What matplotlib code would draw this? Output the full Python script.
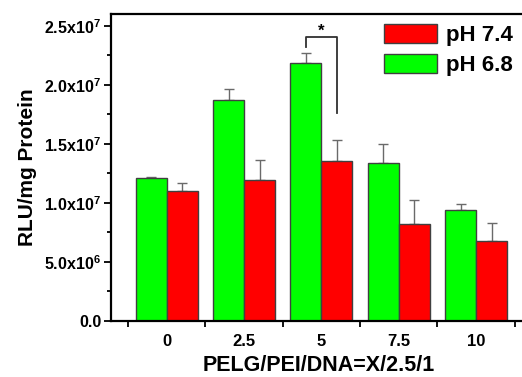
import matplotlib
matplotlib.use("Agg")
import matplotlib.pyplot as plt
import numpy as np
from matplotlib.ticker import FixedLocator, MultipleLocator

plt.rcParams['font.family'] = ['Liberation Sans', 'DejaVu Sans']
plt.rcParams['font.weight'] = 'bold'
plt.rcParams['mathtext.fontset'] = 'custom'
plt.rcParams['mathtext.rm'] = 'Liberation Sans:bold'
plt.rcParams['mathtext.it'] = 'Liberation Sans:bold'
plt.rcParams['mathtext.bf'] = 'Liberation Sans:bold'

categories = ['0', '2.5', '5', '7.5', '10']
ph68 = [1.21e7, 1.872e7, 2.185e7, 1.337e7, 9.38e6]
ph68_err = [0.012e7, 0.093e7, 0.081e7, 0.163e7, 0.52e6]
ph74 = [1.104e7, 1.197e7, 1.354e7, 8.19e6, 6.78e6]
ph74_err = [0.062e7, 0.165e7, 0.18e7, 2.06e6, 1.50e6]

fig = plt.figure(figsize=(5.22, 3.77), dpi=100)
ax = fig.add_axes([111/522, 56/377, 1 - 111/522 + 0.01, 307/377])

x = np.arange(len(categories))
w = 0.4
edge = '#404040'
ax.bar(x - w/2, ph68, w, color='#00ff00', edgecolor=edge, linewidth=1.0, label='pH 6.8', zorder=2)
ax.bar(x + w/2, ph74, w, color='#ff0000', edgecolor=edge, linewidth=1.0, label='pH 7.4', zorder=2)
ax.errorbar(x - w/2, ph68, yerr=[np.zeros(5), ph68_err], fmt='none', ecolor='#6a6a6a',
            elinewidth=1.0, capsize=3.5, capthick=1.0, zorder=1)
ax.errorbar(x + w/2, ph74, yerr=[np.zeros(5), ph74_err], fmt='none', ecolor='#6a6a6a',
            elinewidth=1.0, capsize=3.5, capthick=1.0, zorder=1)

# significance bracket
bx0, bx1 = x[2] - w/2, x[2] + w/2
ax.plot([bx0, bx0, bx1, bx1], [2.317e7, 2.405e7, 2.405e7, 1.76e7], color='#303030', lw=1.3)
ax.text((bx0 + bx1)/2, 2.39e7, '*', ha='center', va='bottom', fontsize=12, fontweight='bold')

ax.set_xlim(-0.72, 4.66)
ax.set_ylim(0, 2.6e7)

ax.set_xticks(x)
ax.set_xticklabels(categories)
ax.xaxis.set_minor_locator(FixedLocator(np.arange(-0.5, 5.0, 1.0)))
ax.tick_params(axis='x', which='major', length=0, labelsize=12, pad=9)
ax.tick_params(axis='x', which='minor', length=4, width=1.3, direction='out')

yt = [0, 5e6, 1e7, 1.5e7, 2e7, 2.5e7]
ylabels = ['0.0', r'$\mathbf{5.0x10^6}$', r'$\mathbf{1.0x10^7}$', r'$\mathbf{1.5x10^7}$',
           r'$\mathbf{2.0x10^7}$', r'$\mathbf{2.5x10^7}$']
ax.set_yticks(yt)
ax.set_yticklabels(ylabels)
ax.yaxis.set_minor_locator(MultipleLocator(2.5e6))
ax.tick_params(axis='y', which='major', length=5, width=1.3, direction='out', labelsize=11.5, pad=2)
ax.tick_params(axis='y', which='minor', length=3, width=1.3, direction='out')
for lab in ax.get_xticklabels() + ax.get_yticklabels():
    lab.set_fontweight('bold')

for s in ['left', 'bottom', 'top']:
    ax.spines[s].set_linewidth(1.6)
ax.spines['right'].set_visible(False)

ax.set_ylabel('RLU/mg Protein', fontsize=15, fontweight='bold', labelpad=5)
ax.set_xlabel('PELG/PEI/DNA=X/2.5/1', fontsize=15.5, fontweight='bold', labelpad=4.5)

h, l = ax.get_legend_handles_labels()
leg = fig.legend([h[1], h[0]], [l[1], l[0]], loc='upper left',
                 bbox_to_anchor=(384/522, 1 - 24/377), bbox_transform=fig.transFigure,
                 frameon=False, fontsize=16, handlelength=2.4, handleheight=0.95,
                 handletextpad=0.4, labelspacing=0.35, borderaxespad=0, borderpad=0)
for t in leg.get_texts():
    t.set_fontweight('bold')

fig.savefig('out.png', dpi=100)
